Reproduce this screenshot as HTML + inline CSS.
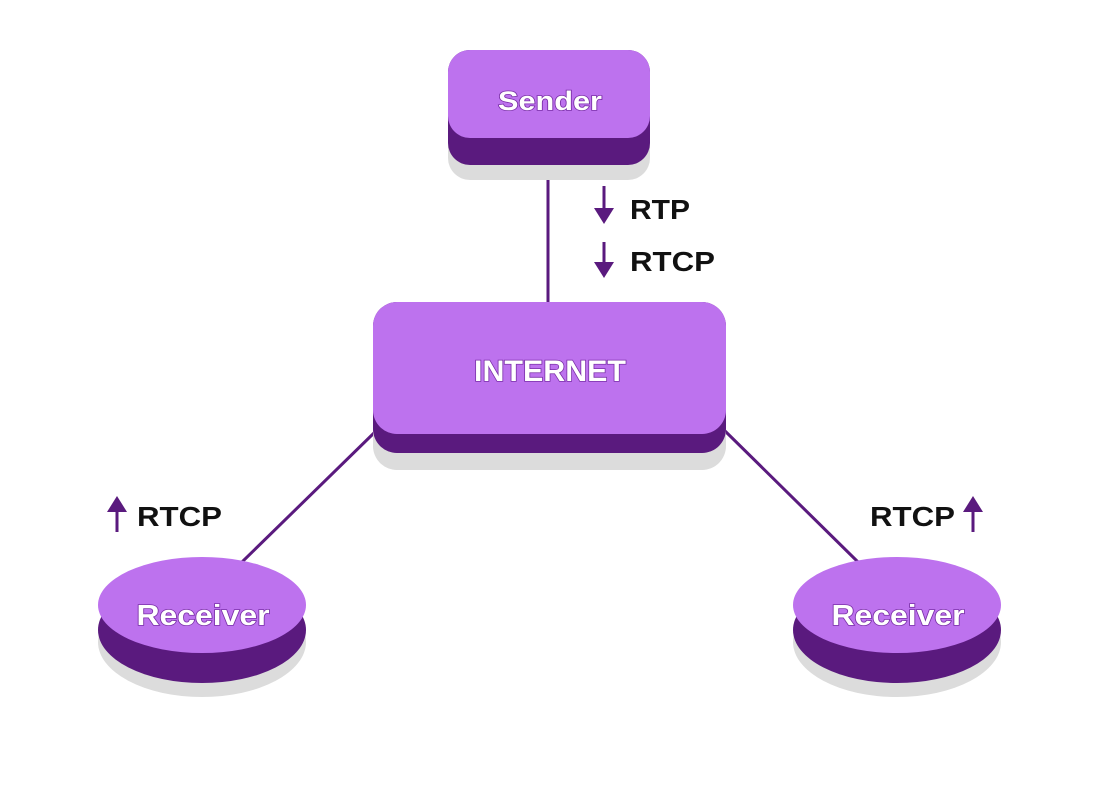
<!DOCTYPE html>
<html><head><meta charset="utf-8"><style>
html,body{margin:0;padding:0;background:#fff;}
svg text{font-family:"Liberation Sans",sans-serif;font-weight:bold;}
.w{fill:#fff;stroke:#7a2fa8;stroke-width:1.6;paint-order:stroke;}
</style></head><body>
<svg width="1100" height="802" viewBox="0 0 1100 802" xmlns="http://www.w3.org/2000/svg">
<line x1="548" y1="178" x2="548" y2="302" stroke="#5a1a7e" stroke-width="3"/>
<line x1="375" y1="432" x2="242" y2="562" stroke="#5a1a7e" stroke-width="3"/>
<line x1="724" y1="430" x2="858" y2="562" stroke="#5a1a7e" stroke-width="3"/>
<rect x="448" y="66" width="202" height="114" rx="22" fill="#dcdcdc"/>
<rect x="448" y="50" width="202" height="115" rx="22" fill="#5a1a7e"/>
<rect x="448" y="50" width="202" height="88" rx="22" fill="#bd72ee"/>
<text x="550" y="110" font-size="27" class="w" text-anchor="middle" textLength="104" lengthAdjust="spacingAndGlyphs">Sender</text>
<rect x="373" y="320" width="353" height="150" rx="24" fill="#dcdcdc"/>
<rect x="373" y="302" width="353" height="151" rx="24" fill="#5a1a7e"/>
<rect x="373" y="302" width="353" height="132" rx="24" fill="#bd72ee"/>
<text x="550" y="381" font-size="30" class="w" text-anchor="middle" textLength="152" lengthAdjust="spacingAndGlyphs">INTERNET</text>
<ellipse cx="202" cy="642" rx="104" ry="55" fill="#dcdcdc"/>
<ellipse cx="202" cy="630" rx="104" ry="53" fill="#5a1a7e"/>
<ellipse cx="202" cy="605" rx="104" ry="48" fill="#bd72ee"/>
<text x="203" y="625" font-size="29" class="w" text-anchor="middle" textLength="133" lengthAdjust="spacingAndGlyphs">Receiver</text>
<ellipse cx="897" cy="642" rx="104" ry="55" fill="#dcdcdc"/>
<ellipse cx="897" cy="630" rx="104" ry="53" fill="#5a1a7e"/>
<ellipse cx="897" cy="605" rx="104" ry="48" fill="#bd72ee"/>
<text x="898" y="625" font-size="29" class="w" text-anchor="middle" textLength="133" lengthAdjust="spacingAndGlyphs">Receiver</text>
<g fill="#5a1a7e" stroke="#5a1a7e">
<line x1="604" y1="186" x2="604" y2="210" stroke-width="3"/>
<polygon points="594,208 614,208 604,224" stroke="none"/>
<line x1="604" y1="242" x2="604" y2="264" stroke-width="3"/>
<polygon points="594,262 614,262 604,278" stroke="none"/>
<line x1="117" y1="510" x2="117" y2="532" stroke-width="3"/>
<polygon points="107,512 127,512 117,496" stroke="none"/>
<line x1="973" y1="510" x2="973" y2="532" stroke-width="3"/>
<polygon points="963,512 983,512 973,496" stroke="none"/>
</g>
<text x="630" y="219" font-size="28" fill="#111" textLength="60" lengthAdjust="spacingAndGlyphs">RTP</text>
<text x="630" y="271" font-size="28" fill="#111" textLength="85" lengthAdjust="spacingAndGlyphs">RTCP</text>
<text x="137" y="526" font-size="28" fill="#111" textLength="85" lengthAdjust="spacingAndGlyphs">RTCP</text>
<text x="870" y="526" font-size="28" fill="#111" textLength="85" lengthAdjust="spacingAndGlyphs">RTCP</text>
</svg>
</body></html>
